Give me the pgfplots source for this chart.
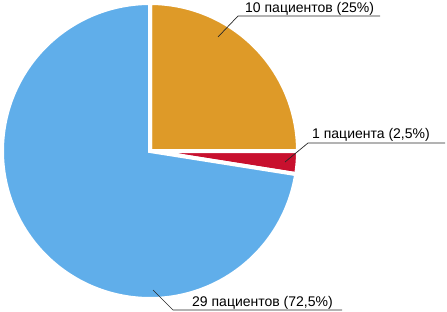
\documentclass[border=0pt]{standalone}
\usepackage{pgfplots}
\pgfplotsset{compat=1.18}
\usepackage{fontspec}
\setmainfont{Liberation Sans}
\definecolor{pieblue}{RGB}{96,174,234}
\definecolor{pieorange}{RGB}{222,154,40}
\definecolor{piered}{RGB}{200,16,46}
\definecolor{leader}{RGB}{40,40,40}
% values (%): 25, 2.5, 72.5
\def\vA{25}\def\vB{2.5}\def\vC{72.5}
\def\cx{150}\def\cy{151}\def\rr{148}
\begin{document}
\begin{tikzpicture}
\begin{axis}[
  width=447bp, height=312bp, scale only axis,
  xmin=0, xmax=447, ymin=0, ymax=312, y dir=reverse,
  hide axis, clip=false,
]
\path (rel axis cs:0,0) rectangle (rel axis cs:1,1);
% orange: 25%
\addplot[fill=pieorange, draw=white, line width=4bp, samples=120,
  domain={-90}:{-90+\vA*3.6}]
  ({\cx+\rr*cos(x)}, {\cy+\rr*sin(x)}) -- (axis cs:\cx,\cy) -- cycle;
% red: 2.5%
\addplot[fill=piered, draw=white, line width=4bp, samples=20,
  domain={-90+\vA*3.6}:{-90+(\vA+\vB)*3.6}]
  ({\cx+\rr*cos(x)}, {\cy+\rr*sin(x)}) -- (axis cs:\cx,\cy) -- cycle;
% blue: 72.5%
\addplot[fill=pieblue, draw=white, line width=4bp, samples=240,
  domain={-90+(\vA+\vB)*3.6}:{-90+(\vA+\vB+\vC)*3.6}]
  ({\cx+\rr*cos(x)}, {\cy+\rr*sin(x)}) -- (axis cs:\cx,\cy) -- cycle;
% leaders and labels
\draw[leader, line width=0.7bp] (axis cs:218,37) -- (axis cs:238,16) -- (axis cs:380,16);
\node[anchor=base west, inner sep=0pt, font=\fontsize{14bp}{16bp}\selectfont] at (axis cs:245,13) {10 пациентов (25\%)};
\draw[leader, line width=0.7bp] (axis cs:285,162) -- (axis cs:308,143) -- (axis cs:445,143);
\node[anchor=base west, inner sep=0pt, font=\fontsize{14bp}{16bp}\selectfont] at (axis cs:312,138) {1 пациента (2,5\%)};
\draw[leader, line width=0.7bp] (axis cs:153,290) -- (axis cs:173,310) -- (axis cs:342,310);
\node[anchor=base west, inner sep=0pt, font=\fontsize{14bp}{16bp}\selectfont] at (axis cs:192,306) {29 пациентов (72,5\%)};
\end{axis}
\end{tikzpicture}
\end{document}
